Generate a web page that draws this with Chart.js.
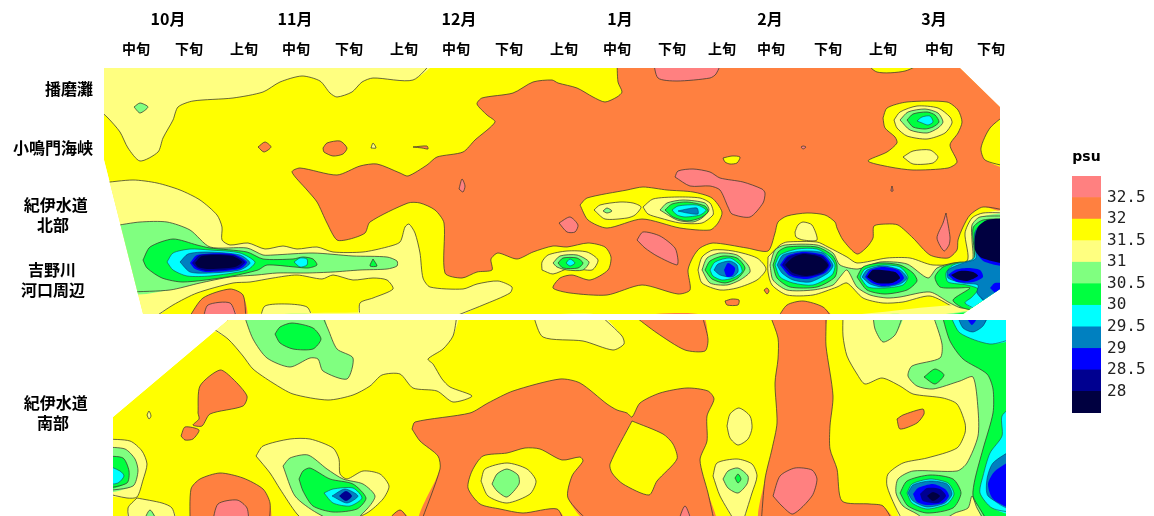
<!DOCTYPE html>
<html><head><meta charset="utf-8">
<style>html,body{margin:0;padding:0;background:#fff}canvas{position:absolute;display:block}</style>
<script src="https://cdn.jsdelivr.net/npm/chart.js@4"></script>
</head><body>
<canvas id="map" width="1154" height="516" style="left:0;top:0"></canvas>
<canvas id="scale" width="94" height="280" style="left:1060px;top:140px"></canvas>
<script>
const decadeLabels=['中旬','下旬','上旬','中旬','下旬','上旬','中旬','下旬','上旬','中旬','下旬','上旬','中旬','下旬','上旬','中旬','下旬'];
const decadePositions=[136,189,244,296,349,404,456,509,564,617,672,722,771,828,883,939,991];
const monthLabels=['10月','11月','12月','1月','2月','3月'];
const monthPositions=[168,295,459,620,770,934];
const sectionLabels=['播磨灘','小鳴門海峡',['紀伊水道\u2004','北部\u3000\u2002'],['吉野川\u3000\u200a','河口周辺\u2002'],['紀伊水道\u2004','南部\u3000\u2002']];
const sectionPositions=[89,148,215,280,413];
const legendLevels=[28,.5,.5,.5,.5,.5,.5,.5,.5,.5,.5];
const legendTicks=[28,28.5,29,29.5,30,30.5,31,31.5,32,32.5];
const legendColors=['#000040','#000090','#0000ff','#0080c0','#00ffff','#00ff40','#80ff80','#ffff80','#ffff00','#ff8040','#ff8080'];

// regions per salinity band, each a flat x,y list in axis units
const domain=[
[104,68,960,68,1000,107,1000,289,963,314,143,314,104,160],
[228,320,1006,320,1006,516,113,516,113,417]];
const band32=[
[617,68,960,68,1000,107,1000,211,983,207,970,215,963,227,958,240,957,250,948,258,930,255,913,238,898,225,887,224,874,226,873,238,867,247,857,254,843,240,837,228,835,222,825,215,807,213,787,216,778,222,775,233,768,251,747,248,713,243,700,248,693,257,688,270,690,290,678,294,642,285,607,295,570,293,553,288,560,278,572,275,590,280,608,270,611,257,605,247,588,243,567,247,553,246,533,252,517,259,498,253,491,259,492,270,477,272,462,278,445,273,444,223,435,210,420,203,408,203,370,222,365,233,350,239,337,240,327,223,317,202,307,190,292,172,300,168,337,175,360,166,377,164,400,173,408,176,427,165,437,157,463,152,475,140,495,122,487,115,477,104,482,98,513,93,533,82,552,80,558,83,577,88,593,97,605,102,617,97,622,92,618,82],
[258,147,265,142,271,147,264,152],
[323,148,327,143,340,141,347,148,343,154,333,156,324,152],
[413,147,427,146,428,149,422,148],
[188,314,203,298,230,289,243,295,246,314],
[777,314,787,305,803,301,823,307,833,314],
[725,301,732,299,739,300,738,305,727,305],
[764,290,767,288,769,291,767,294],
[198,413,200,386,220,370,233,379,247,396,243,406,210,414,202,426,193,425,199,419],
[181,436,185,427,199,430,193,439,185,440],
[190,516,191,489,200,479,220,473,243,478,263,489,270,503,269,516],
[383,516,400,510,412,516],
[412,429,415,422,470,413,488,403,513,391,560,379,580,383,607,404,617,410,627,413,632,417,640,403,660,393,687,388,708,391,714,399,707,416,707,441,700,460,708,493,715,516,592,516,568,498,572,476,583,461,580,457,562,460,540,449,525,448,507,453,483,456,472,471,468,488,480,504,500,509,523,513,557,509,565,516,420,516,440,469,438,456,420,441],
[633,320,702,320,708,339,705,351,685,350,657,333],
[770,320,826,320,826,327,826,346,833,396,830,426,830,449,837,469,842,501,870,504,883,506,895,516,761,516,765,479,772,449,777,423,775,383,778,359,778,338],
[897,419,903,415,923,409,924,414,917,423,900,429]];
const above32_5=[
[653,68,723,68,716,74,710,78,677,81,658,78],
[675,177,678,171,693,169,710,172,720,178,743,182,762,189,765,193,763,203,750,217,732,214,728,207,720,190,710,186,690,186],
[559,223,570,217,578,225,575,232,567,232],
[637,240,643,232,660,236,675,248,678,260,677,265,657,256,645,248],
[946,213,950,237,949,245,944,251,937,238,943,223],
[459,189,462,179,465,186,463,192],
[801,147,803,146,806,147,803,149],
[892,186,893,191,891,191],
[203,314,208,305,230,303,237,314],
[773,496,780,476,795,468,812,470,817,479,812,496,793,514,782,506],
[212,516,218,504,237,500,247,508,249,516],
[677,516,685,506,693,516]];
const band31_5=[
[862,68,930,68,905,71,877,72],
[723,158,732,156,740,157,737,163,730,164,725,162],
[883,118,887,108,907,102,947,102,958,110,962,122,958,133,950,145,957,162,948,168,913,170,890,167,868,161,887,152,897,143,895,137,885,128],
[1000,112,990,128,981,148,985,160,1000,167],
[580,205,587,198,627,190,643,187,667,190,693,192,712,198,722,212,718,223,710,230,680,228,642,219,607,228,588,220],
[343,338,346,330,358,334,357,339,347,341],
[632,421,610,464,612,473,623,484,649,495,657,481,677,459,673,444,663,434]];
const band31=[
[104,68,435,68,413,80,373,78,362,82,352,92,337,97,330,93,320,81,302,76,280,82,263,92,233,98,193,101,178,107,173,120,163,138,158,152,140,161,128,148,120,132,108,118,104,106],
[110,183,133,180,157,183,180,190,200,200,217,215,222,227,222,240,230,245,248,243,265,249,283,246,297,249,317,247,333,252,363,252,387,247,400,242,405,227,409,224,415,233,420,253,423,278,430,287,463,289,477,284,498,281,512,287,510,293,483,305,448,314,360,314,360,303,373,298,393,289,387,280,373,278,353,280,333,275,322,279,297,275,273,278,250,282,233,283,197,293,173,305,152,314,143,314],
[260,314,265,306,287,304,307,307,313,314],
[371,148,373,143,376,148],
[894,120,900,112,917,106,938,108,950,117,952,123,945,133,927,139,907,136,897,128],
[903,157,913,151,930,150,938,157,933,163,913,164],
[594,210,600,205,620,202,633,203,641,207,635,215,627,218,605,219],
[643,207,653,199,677,197,700,198,710,203,713,210,713,215,702,223,680,223,660,218,648,214],
[542,270,542,262,548,255,567,251,587,252,598,260,592,270,570,268,553,274],
[698,270,702,257,713,250,733,251,757,258,766,269,757,280,737,288,720,290,702,283],
[768,257,780,245,787,242,817,242,828,247,847,257,857,263,887,258,910,258,933,265,967,261,965,233,972,218,983,213,1000,213,1000,289,965,312,953,307,930,296,903,302,883,303,863,298,847,283,837,287,813,295,787,295,772,285,768,272],
[795,232,798,225,803,222,812,225,817,240,803,240,796,237],
[228,320,457,320,453,336,443,349,428,359,433,364,442,379,450,387,472,396,453,402,437,391,413,388,400,374,382,375,370,386,353,395,328,400,293,394,273,383,253,369,243,356,228,339,215,332],
[147,415,149,411,151,416,149,419],
[113,439,130,441,142,451,147,464,143,480,137,497,127,498,113,493],
[137,498,162,503,172,508,177,516,130,516,128,508],
[256,456,263,446,290,439,310,439,333,448,339,459,340,474,347,479,363,471,380,474,389,486,383,499,367,513,338,516,310,516,297,514,280,489,270,473],
[481,481,485,469,507,463,527,469,536,481,530,494,507,503,488,496],
[533,320,600,320,622,336,624,344,613,350,583,341,543,337],
[727,426,730,414,739,408,750,416,752,428,748,439,738,445,730,438],
[713,476,717,463,737,459,752,464,757,476,752,493,742,516,737,516,720,496],
[843,320,1006,320,1006,516,905,516,895,506,887,486,888,474,903,463,927,458,957,448,965,433,965,423,957,404,943,398,913,394,900,386,882,378,865,384,857,374,847,356,843,336]];
const band30_5=[
[134,107,140,103,148,107,140,113],
[122,226,140,222,167,222,190,230,210,247,247,248,263,255,273,255,313,253,353,256,387,257,397,261,397,266,387,269,360,270,333,272,307,273,277,273,257,275,230,277,200,283,170,290,138,292],
[900,120,908,112,925,109,938,113,943,122,938,128,927,133,910,130],
[553,263,560,256,577,255,589,262,583,270,567,270,557,267],
[603,211,607,208,612,211,607,213],
[660,210,667,203,683,200,705,203,709,210,702,218,693,222,677,220],
[702,270,707,258,720,253,737,255,748,265,750,272,740,280,727,285,710,283],
[770,265,775,250,785,245,817,245,833,253,840,265,858,269,880,262,907,264,928,278,937,268,953,263,972,261,972,240,972,225,980,217,1000,216,1000,289,963,308,950,303,930,292,900,297,887,298,870,295,857,287,847,270,840,277,833,285,813,290,787,290,773,280],
[244,320,322,320,328,329,337,349,353,358,347,379,323,371,318,359,310,358,290,367,267,358,253,339],
[306,339,309,337,312,338,309,341],
[113,447,125,449,135,459,138,471,133,486,113,491],
[142,516,150,510,159,516],
[283,466,290,458,308,455,327,469,343,479,363,484,375,496,367,509,347,516,317,513,295,496],
[492,484,497,474,507,469,518,475,519,484,507,497,497,491],
[723,479,728,471,738,468,748,476,747,484,738,493,728,488],
[873,320,903,320,895,335,883,342,875,329],
[933,320,1006,320,1006,516,987,516,977,508,972,496,968,508,955,513,933,516,917,514,903,506,896,493,898,479,913,471,957,471,967,463,978,436,978,409,973,377,960,381,933,389,917,386,908,376,912,366,940,358,942,344]];
const band30=[
[143,260,150,247,173,239,197,245,210,248,247,252,263,259,293,259,303,257,313,259,317,265,308,268,295,267,267,265,258,270,227,277,183,282,162,278,147,268],
[373,259,370,266,377,266],
[907,120,913,114,927,112,935,115,939,122,933,127,925,129,913,127],
[558,263,563,258,577,258,583,263,578,268,563,268],
[665,210,672,204,687,202,705,206,708,212,700,218,687,221,673,217],
[705,270,710,261,723,256,737,258,745,268,738,278,725,283,712,279],
[773,265,778,252,787,247,817,247,832,255,837,265,835,277,817,287,790,287,777,278],
[857,277,863,267,880,263,900,265,913,273,917,281,907,290,885,294,867,290],
[1000,219,983,220,973,228,974,262,960,262,943,267,935,277,940,287,957,288,970,288,953,300,963,308,975,306,1000,289],
[275,334,280,327,292,323,313,328,321,339,313,349,293,349,280,343],
[113,456,123,458,129,471,127,483,113,489],
[299,479,303,471,310,468,330,479,353,484,366,498,357,509,333,512,313,506,303,491],
[735,478,738,474,741,479,738,483],
[924,377,935,369,944,375,935,384],
[900,493,907,481,930,475,953,479,961,493,953,508,927,513,908,506],
[942,320,1006,320,1006,516,990,516,980,509,973,496,975,479,983,449,993,413,993,389,987,374,963,359,950,341]];
const band29_5=[
[167,262,173,253,190,249,210,250,240,253,255,262,247,270,210,276,187,276,173,270],
[294,262,300,258,307,259,307,265,300,267],
[917,121,922,117,930,116,933,122,928,125,922,123],
[566,263,570,259,575,263,570,266],
[672,210,678,206,697,205,706,210,700,215,685,217,677,215],
[710,270,715,262,730,258,740,265,742,272,733,278,722,280,713,276],
[775,265,780,255,797,249,817,249,830,257,835,265,832,275,813,285,793,283,780,277],
[860,277,865,269,883,265,900,267,908,277,903,285,885,288,868,287],
[1000,222,983,223,975,232,974,258,953,265,946,273,948,282,967,285,978,289,972,297,965,303,975,306,1000,289],
[324,493,333,489,353,488,362,498,350,506,333,503],
[113,464,120,471,124,476,118,483,113,485],
[907,493,912,484,930,479,948,483,954,494,947,504,927,509,912,503],
[950,320,1006,320,1006,338,990,344,960,333],
[1006,404,1002,416,1002,436,990,453,983,476,980,493,992,508,1006,513]];
const band29=[
[180,262,188,254,207,252,240,255,250,263,240,270,210,273,190,272],
[678,211,687,209,697,208,698,214,687,213],
[714,270,718,264,730,261,737,265,738,272,732,277,720,275],
[777,265,783,255,803,251,823,253,833,265,828,273,810,282,793,280,782,273],
[862,277,867,270,883,266,900,270,907,278,900,284,883,287,870,284],
[1000,223,985,223,975,233,976,258,963,263,948,270,948,278,963,283,978,285,977,293,984,300,1000,289],
[332,496,345,489,358,496,347,503],
[908,493,913,485,930,481,947,484,952,494,945,503,927,507,913,501],
[957,320,988,320,983,326,973,332,963,328],
[1006,448,993,463,987,479,988,496,1006,510]];
const band28_5=[
[190,263,197,255,233,254,247,262,240,269,207,272,195,269],
[724,270,728,263,735,268,733,275,727,277],
[780,265,787,256,803,252,823,255,831,265,825,273,807,279,790,276],
[865,277,870,270,883,267,898,270,904,278,897,284,883,286,872,283],
[948,275,955,270,967,268,980,270,983,277,973,282,957,282],
[1000,221,986,222,977,230,975,245,978,255,985,262,1000,265],
[990,288,995,283,1000,285,1000,289,995,292],
[965,320,978,320,972,325],
[913,494,918,488,933,484,945,489,949,496,943,503,927,505,917,502],
[1006,458,995,471,988,484,993,499,1006,508]];
const band28=[
[192,263,200,255,233,255,245,262,238,268,207,271,197,268],
[782,265,788,257,803,253,822,256,829,265,823,273,807,277,792,275],
[920,494,927,488,940,489,946,496,938,503,923,501],
[339,496,346,491,352,496,346,501]];
const below28=[
[195,263,202,256,232,256,242,262,235,267,207,269,198,267],
[785,265,792,258,803,254,820,257,828,265,822,272,807,276,793,273],
[867,277,873,270,895,272,900,278,892,283,877,283],
[951,275,960,271,973,272,978,276,967,281,957,279],
[1000,218,987,220,978,227,975,237,975,250,982,258,1000,262],
[927,496,933,492,940,496,933,501]];

const contourInk='rgba(55,55,45,.75)';
const paintOrder=[
[domain,'#ffff00',null],[band32,'#ff8040',contourInk],[above32_5,'#ff8080',contourInk],[band31_5,'#ffff00',contourInk],
[band31,'#ffff80',contourInk],[band30_5,'#80ff80',contourInk],[band30,'#00ff40',contourInk],[band29_5,'#00ffff','rgba(30,70,70,.6)'],
[band29,'#0080c0','rgba(0,40,90,.5)'],[band28_5,'#0000ff',null],[band28,'#000090',null],[below28,'#000040',null]];

// a vertex lying on the edge of the sampled area is pushed past it; the area clip trims it back
function outward(x,y){
  const push=[0,0];
  const near=(a,b)=>Math.abs(a-b)<1.6;
  if(y===68)push[1]=-9;
  if(y===320)push[1]=-5;
  if(y===314)push[1]=5;
  if(y===516)push[1]=9;
  if(y<=289&&y>=107&&x===1000)push[0]=9;
  if(x===1006)push[0]=9;
  if(x===104&&y<=160)push[0]=-9;
  if(x===113&&y>=417)push[0]=-9;
  if(y>160&&y<=314&&near(x,104+(y-160)*.2532))push[0]=-9;
  if(y>=289&&y<=314&&near(x,1000-(y-289)*1.48)){push[0]=5;push[1]=5;}
  if(y>=68&&y<=107&&near(x,960+(y-68)*1.026)&&x>=960){push[0]=7;push[1]=-7;}
  if(y>=320&&y<=417&&x<=228&&near(x,113+(417-y)*1.186)){push[0]=-6;push[1]=-6;}
  return push;
}
const datasets=[];
paintOrder.forEach(([regions,color,ink])=>regions.forEach(flat=>{
  const isBase=regions===domain,pts=[],flags=[];
  for(let i=0;i<=flat.length;i+=2){
    const x=flat[i%flat.length],y=flat[(i+1)%flat.length],p=outward(x,y);
    pts.push({x:x+(isBase?0:p[0]),y:y+(isBase?0:p[1])});
    flags.push(p[0]!==0||p[1]!==0);
  }
  const tension=isBase?0:.25;
  datasets.push({data:pts,showLine:true,fill:'shape',backgroundColor:color,borderColor:color,borderWidth:0,tension,pointRadius:0,pointHoverRadius:0});
  if(ink){
    const line=[];
    pts.forEach((p,i)=>{
      if(i>0&&flags[i]&&flags[i-1])line.push({x:p.x,y:null});
      line.push(p);
    });
    datasets.push({data:line,showLine:true,fill:false,spanGaps:false,borderColor:ink,borderWidth:1,tension,pointRadius:0,pointHoverRadius:0});
  }
}));
datasets.forEach((d,i)=>d.order=datasets.length-i);

const areaClip={id:'areaClip',
  beforeDatasetsDraw(chart){
    const {ctx,scales:{x,y}}=chart;
    ctx.save();ctx.beginPath();
    domain.forEach(flat=>{
      for(let i=0;i<flat.length;i+=2){
        const px=x.getPixelForValue(flat[i]),py=y.getPixelForValue(flat[i+1]);
        if(i===0)ctx.moveTo(px,py);else ctx.lineTo(px,py);
      }
      ctx.closePath();
    });
    ctx.clip();
  },
  afterDatasetsDraw(chart){chart.ctx.restore();}
};

const CJK='"Noto Sans CJK JP"';
Chart.defaults.font.family=CJK;
function topAxis(pos,labels,h,size,pad,weight){return{
  type:'linear',position:'top',min:104,max:1006,weight,
  grid:{display:false,drawTicks:false},border:{display:false},
  afterBuildTicks:s=>{s.ticks=pos.map(v=>({value:v}))},
  afterFit:s=>{s.height=h;s.paddingLeft=0;s.paddingRight=0},
  ticks:{autoSkip:false,maxRotation:0,minRotation:0,padding:pad,color:'#000',font:{size,weight:'bold'},callback:(v,i)=>labels[i]}
}}
new Chart(document.getElementById('map'),{type:'scatter',data:{datasets},plugins:[areaClip],options:{
  responsive:false,animation:false,events:[],
  layout:{autoPadding:false,padding:{left:0,right:148,top:0,bottom:0}},
  plugins:{legend:{display:false},tooltip:{enabled:false},title:{display:false}},
  scales:{
    x:topAxis(decadePositions,decadeLabels,34,14,11,0),
    x2:topAxis(monthPositions,monthLabels,34,16,5,10),
    y:{type:'linear',reverse:true,min:68,max:516,
      grid:{display:false,drawTicks:false},border:{display:false},
      afterBuildTicks:s=>{s.ticks=sectionPositions.map(v=>({value:v}))},
      afterFit:s=>{s.width=104;s.paddingTop=0;s.paddingBottom=0},
      ticks:{autoSkip:false,padding:11,color:'#000',crossAlign:'near',font:{size:16,weight:'bold',lineHeight:1.3},callback:(v,i)=>sectionLabels[i]}}
  }}});

new Chart(document.getElementById('scale'),{type:'bar',
  data:{labels:['psu'],datasets:legendLevels.map((v,i)=>({data:[v],backgroundColor:legendColors[i],barPercentage:1,categoryPercentage:1,borderWidth:0}))},
  options:{responsive:false,animation:false,events:[],
    layout:{autoPadding:false,padding:{left:12,right:0,top:0,bottom:7}},
    plugins:{legend:{display:false},tooltip:{enabled:false}},
    scales:{
      x:{position:'top',stacked:true,grid:{display:false,drawTicks:false},border:{display:false},
        afterFit:s=>{s.height=36;s.paddingLeft=0;s.paddingRight=0},
        ticks:{padding:10,color:'#000',font:{size:14,weight:'bold',family:'"DejaVu Sans"'}}},
      y:{position:'right',stacked:true,min:27.5,max:33,
        grid:{display:false,drawTicks:false},border:{display:false},
        afterFit:s=>{s.width=53;s.paddingTop=0;s.paddingBottom=0},
        ticks:{stepSize:.5,autoSkip:false,padding:6,color:'#222',font:{size:16,family:'"DejaVu Sans Mono"'},
          callback:v=>legendTicks.includes(v)?String(v):''}}
    }}});
</script>
</body></html>
